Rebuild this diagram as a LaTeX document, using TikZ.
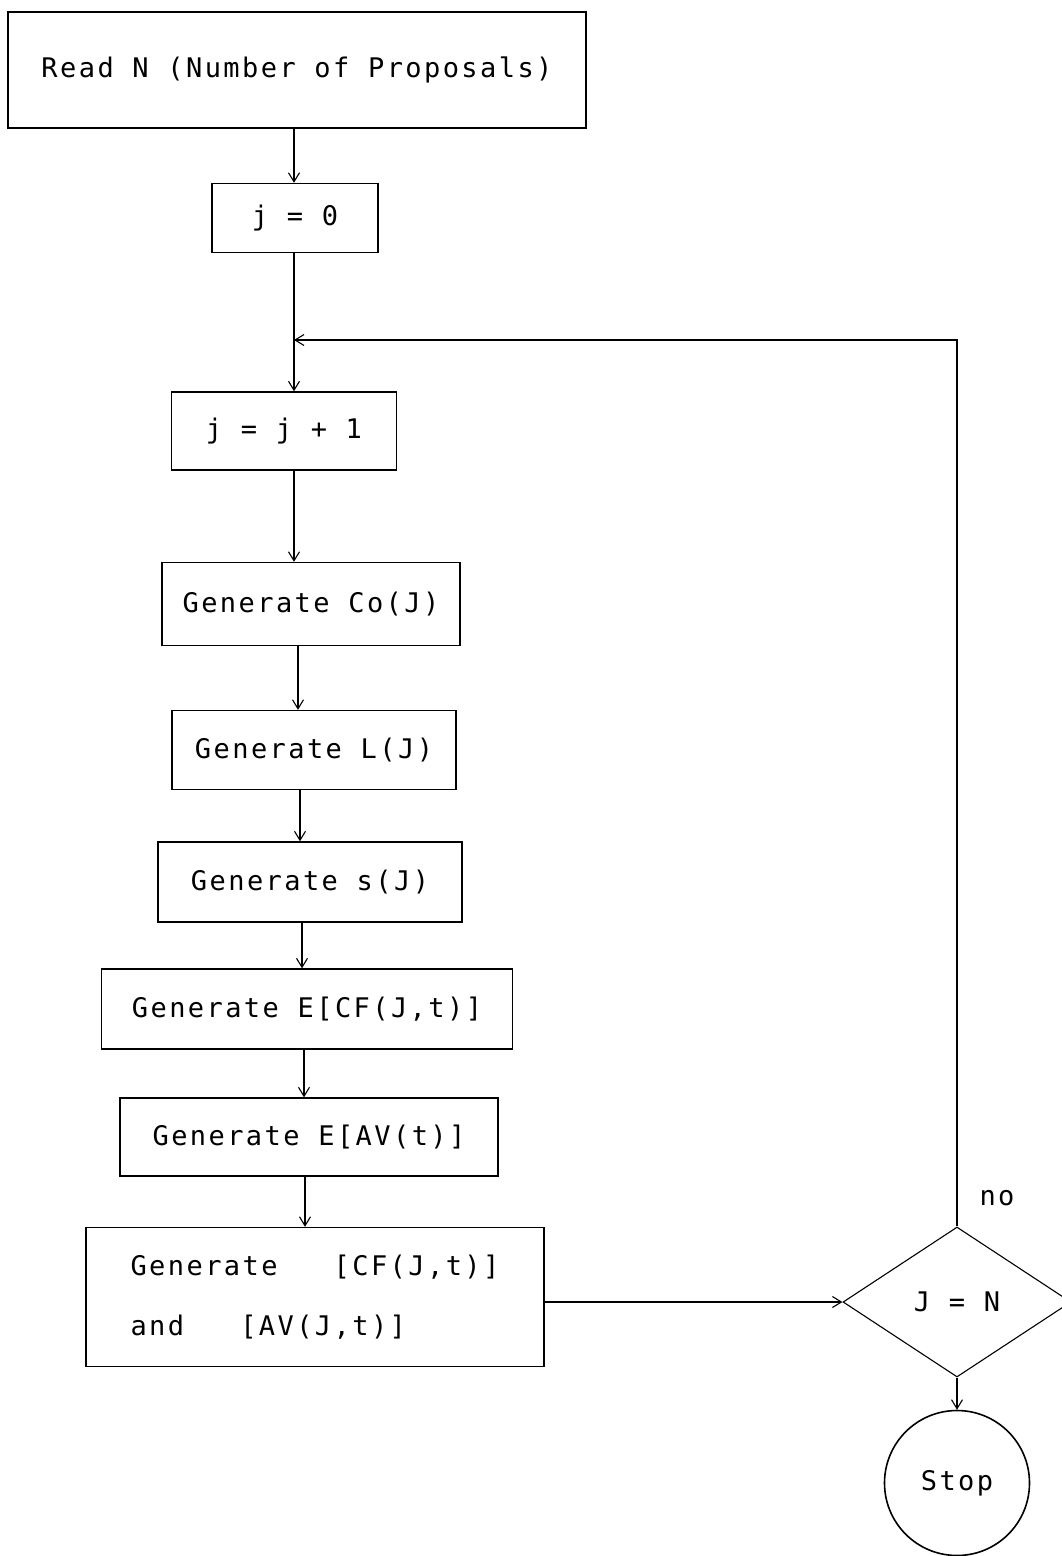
\documentclass[tikz,border=0pt]{standalone}
\usepackage{fontspec}
\newfontfamily\dotfont[LetterSpace=9]{DejaVu Sans Mono}
\usetikzlibrary{arrows.meta,shapes.geometric}

\tikzset{
  pbox/.style 2 args={draw, line width=1.4pt, inner sep=0pt,
    minimum width=#1pt, minimum height=#2pt},
  flow/.style={line width=1.1pt, -{Straight Barb[length=9pt,width=11pt]}},
}

\begin{document}
\begin{tikzpicture}[x=1pt,y=-1pt,font={\dotfont\fontsize{27}{60}\selectfont}]
  \useasboundingbox (0,0) rectangle (1061,1556);
  % main column of steps
  \node[pbox={578}{116}] (read) at (297,70) {Read N (Number of Proposals)};
  \node[pbox={166}{69}] (init) at (295,218) {j = 0};
  \node[pbox={225}{78}] (incr) at (284,431) {j = j + 1};
  \node[pbox={298}{83}] (genco) at (311,604) {Generate Co(J)};
  \node[pbox={284}{79}] (genl) at (314,750) {Generate L(J)};
  \node[pbox={304}{80}] (gens) at (310,882) {Generate s(J)};
  \node[pbox={411}{80}] (genecf) at (307,1009) {Generate E[CF(J,t)]};
  \node[pbox={378}{78}] (geneav) at (309,1137) {Generate E[AV(t)]};
  \node[pbox={458}{139}, align=left] (gencf) at (315,1297)
    {Generate\ \ \ [CF(J,t)]\\and\ \ \ [AV(J,t)]};
  % test and end
  \node[draw, diamond, line width=1.1pt, inner sep=0pt, aspect=1.52,
    minimum width=228pt, minimum height=150pt] (test) at (957,1302) {J = N};
  \node[draw, circle, line width=1.6pt, minimum size=145pt] (stop) at (957,1483) {Stop};
  \node (no) at (997,1198) {no};
  \coordinate (join) at (294,340);

  \foreach \a/\b/\d in {read/init/-3, init/incr/-1, incr/genco/10, genco/genl/-13,
      genl/gens/-14, gens/genecf/-8, genecf/geneav/-3, geneav/gencf/-4}
    \draw[flow] ([xshift=\d pt]\a.south) -- ([xshift=\d pt]\a.south |- \b.north);
  \draw[flow] (gencf.east |- test.west) -- (test.west);
  \draw[flow] (test.south) -- (stop.north);
  \draw[flow] (test.north) |- (join); % loop back
\end{tikzpicture}
\end{document}
